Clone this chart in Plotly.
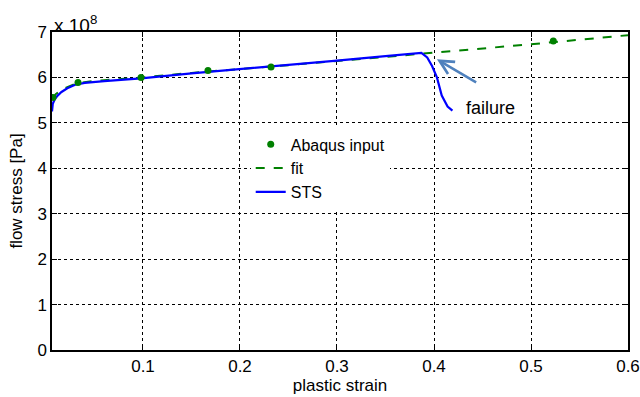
import plotly.graph_objects as go

# Abaqus input points
abaqus_x = [0.0072, 0.033, 0.098, 0.167, 0.232, 0.523]
abaqus_y = [5.56e8, 5.89e8, 6.00e8, 6.15e8, 6.23e8, 6.80e8]

# fit curve
fit_x = [0.0062, 0.010, 0.015, 0.020, 0.030, 0.045, 0.060, 0.080, 0.100, 0.150, 0.200, 0.250, 0.300, 0.350, 0.400, 0.450, 0.500, 0.550, 0.600]
fit_y = [5.52e8, 5.63e8, 5.71e8, 5.77e8, 5.86e8, 5.91e8, 5.94e8, 5.97e8, 6.00e8, 6.10e8, 6.18e8, 6.27e8, 6.36e8, 6.45e8, 6.55e8, 6.64e8, 6.73e8, 6.83e8, 6.93e8]

# STS curve
sts_x = [0.0062, 0.007, 0.009, 0.012, 0.016, 0.022, 0.030, 0.040, 0.060, 0.098, 0.150, 0.200, 0.250, 0.300, 0.350, 0.387, 0.393, 0.398, 0.403, 0.408, 0.414, 0.419]
sts_y = [5.25e8, 5.42e8, 5.52e8, 5.60e8, 5.68e8, 5.76e8, 5.84e8, 5.88e8, 5.92e8, 5.98e8, 6.09e8, 6.18e8, 6.28e8, 6.37e8, 6.47e8, 6.54e8, 6.44e8, 6.25e8, 6.00e8, 5.60e8, 5.36e8, 5.27e8]

x_ticks = [0.1, 0.2, 0.3, 0.4, 0.5, 0.6]
y_ticks = [0, 1e8, 2e8, 3e8, 4e8, 5e8, 6e8, 7e8]
y_labels = ["0", "1", "2", "3", "4", "5", "6", "7"]

FONT = "Liberation Sans, Arial, Helvetica, sans-serif"

fig = go.Figure()
fig.add_trace(go.Scatter(x=fit_x, y=fit_y, mode="lines", name="fit",
                         line=dict(color="#008000", width=2, dash="dash"), showlegend=False))
fig.add_trace(go.Scatter(x=sts_x, y=sts_y, mode="lines", name="STS",
                         line=dict(color="#0000ff", width=2.2), showlegend=False))
fig.add_trace(go.Scatter(x=abaqus_x, y=abaqus_y, mode="markers", name="Abaqus input",
                         marker=dict(color="#008000", size=7)))
# legend-only entries for ordering
fig.add_trace(go.Scatter(x=[None], y=[None], mode="lines", name="fit",
                         line=dict(color="#008000", width=2, dash="dash")))
fig.add_trace(go.Scatter(x=[None], y=[None], mode="lines", name="STS",
                         line=dict(color="#0000ff", width=2.2)))

axis_common = dict(showline=True, linecolor="black", linewidth=1.5, mirror="ticks",
                   ticks="inside", ticklen=5, tickcolor="black", automargin=False,
                   showgrid=True, gridcolor="black", griddash="dot", gridwidth=1,
                   zeroline=False, tickfont=dict(size=17, color="black"))

fig.update_xaxes(range=[0.0062, 0.6], tickvals=x_ticks, ticktext=[str(v) for v in x_ticks],
                 title=dict(text="plastic strain", font=dict(size=17, color="black"), standoff=4),
                 **axis_common)
fig.update_yaxes(range=[0, 7e8], tickvals=y_ticks, ticktext=y_labels,
                 title=dict(text="flow stress [Pa]", font=dict(size=17, color="black"), standoff=10),
                 **axis_common)

fig.add_annotation(x=0.403, y=6.40e8, ax=0.445, ay=5.87e8, xref="x", yref="y", axref="x", ayref="y",
                   text="", showarrow=True, arrowhead=5, arrowsize=1.1, arrowwidth=2.5,
                   arrowcolor="#4f81bd")
fig.add_annotation(x=0.458, y=5.33e8, xref="x", yref="y", text="failure", showarrow=False,
                   font=dict(size=18, color="black"))
fig.add_annotation(x=0, y=1, xref="paper", yref="paper", xanchor="left", yanchor="bottom",
                   text="x 10<sup>8</sup>", showarrow=False, font=dict(size=19, color="black"),
                   yshift=-6)

fig.update_layout(
    width=640, height=397,
    margin=dict(l=52, r=12, t=32, b=47),
    plot_bgcolor="white", paper_bgcolor="white",
    font=dict(family=FONT, color="black"),
    legend=dict(x=0.345, y=0.70, xanchor="left", yanchor="top", bgcolor="white",
                borderwidth=0, font=dict(size=16), tracegroupgap=0,
                itemwidth=30),
)

fig.write_html("out.html")
